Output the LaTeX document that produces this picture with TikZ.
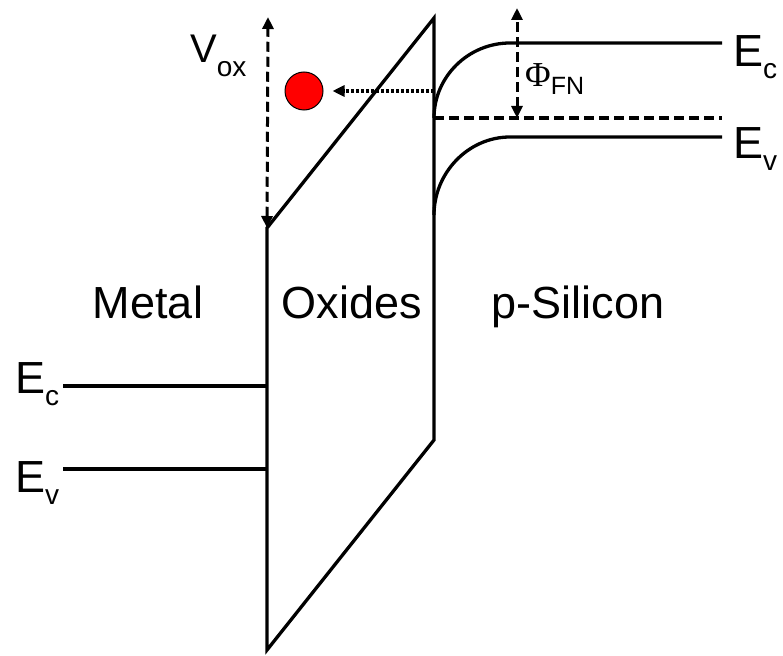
\documentclass[tikz,border=0pt]{standalone}
\usepackage{fontspec}
\setmainfont{Liberation Sans}
\newfontfamily\phifont{Liberation Serif}
\usetikzlibrary{arrows.meta,positioning,calc}
\definecolor{ChargeRed}{RGB}{255,0,0}
\newcommand\lowsub[2]{\raisebox{-#1}{\fontsize{28}{30}\selectfont #2}}
\tikzset{
  band/.style={line width=3.3pt},
  fermi/.style={line width=3.2pt,dash pattern=on 10pt off 5pt},
  span/.style={{Triangle[length=12pt,width=11pt]}-{Triangle[length=12pt,width=11pt]},
    line width=3pt,dash pattern=on 10pt off 5pt},
  tunnel/.style={-{Triangle[length=12pt,width=11pt]},line width=3.2pt,dash pattern=on 3pt off 2pt},
  charge/.style={circle,draw=black,line width=1pt,fill=ChargeRed,minimum size=38pt,inner sep=0pt},
  bigtext/.style={font=\fontsize{45}{50}\selectfont,inner sep=0pt}
}

\begin{document}
\begin{tikzpicture}[x=1pt,y=-1pt]
  \useasboundingbox (0,0) rectangle (783,655);
  % oxide corners
  \coordinate (oxTL) at (267,228);
  \coordinate (oxBL) at (267,650);
  \coordinate (oxTR) at (434,18);
  \coordinate (oxBR) at (434,440);
  % metal levels
  \coordinate (mEc) at (63,386);
  \coordinate (mEv) at (63,469);
  \draw[band] (oxTL) -- (oxBL) -- (oxBR) -- (oxTR) -- cycle;
  \draw[band] (mEc) -- (mEc -| oxTL);
  \draw[band] (mEv) -- (mEv -| oxTL);
  % silicon bands
  \coordinate (sEc0) at (434,118);
  \coordinate (sEc1) at (510,43);
  \coordinate (sEc2) at (722,43);
  \coordinate (sEv0) at (434,215);
  \coordinate (sEv1) at (510,137);
  \coordinate (sEv2) at (722,137);
  \coordinate (sEf2) at (722,118);
  \draw[band] (sEc0) .. controls (434,77) and (468,43) .. (sEc1) -- (sEc2);
  \draw[band] (sEv0) .. controls (434,173) and (468,137) .. (sEv1) -- (sEv2);
  \draw[fermi] (sEc0) -- (sEf2);
  % barrier and voltage
  \coordinate (phiTop) at (517,8);
  \coordinate (phiBot) at (517,118);
  \draw[span] (phiBot) -- (phiTop);
  \coordinate (voxTop) at (268,17);
  \draw[span] (oxTL) -- (voxTop);
  % electron
  \node[charge] (elec) at (304,91) {};
  \coordinate (tunStart) at (434,91);
  \draw[tunnel] (tunStart) -- ([xshift=9pt]elec.east);
  % labels
  \node[bigtext,anchor=base] (metal) at (148,318) {Metal};
  \node[bigtext,anchor=base] (oxides) at (352,318) {Oxides};
  \node[bigtext,anchor=base] (psi) at (578,318) {p-Silicon};
  \node[bigtext,anchor=base west] (lblEcR) at (733,67) {E\lowsub{12pt}{c}};
  \node[bigtext,anchor=base west] (lblEvR) at (733,158) {E\lowsub{12pt}{v}};
  \node[bigtext,anchor=base west] (lblEcL) at (15,393) {E\lowsub{12pt}{c}};
  \node[bigtext,anchor=base west] (lblEvL) at (15,492) {E\lowsub{12pt}{v}};
  \node[font=\fontsize{40}{44}\selectfont,inner sep=0pt,anchor=base west] (lblVox) at (190,63) {V\lowsub{14pt}{ox}};
  \node[inner sep=0pt,anchor=base west] (lblPhi) at (525,87)
    {{\phifont\fontsize{35}{38}\selectfont\symbol{"03A6}}{\fontsize{25}{27}\selectfont\raisebox{-8pt}{FN}}};
\end{tikzpicture}
\end{document}
